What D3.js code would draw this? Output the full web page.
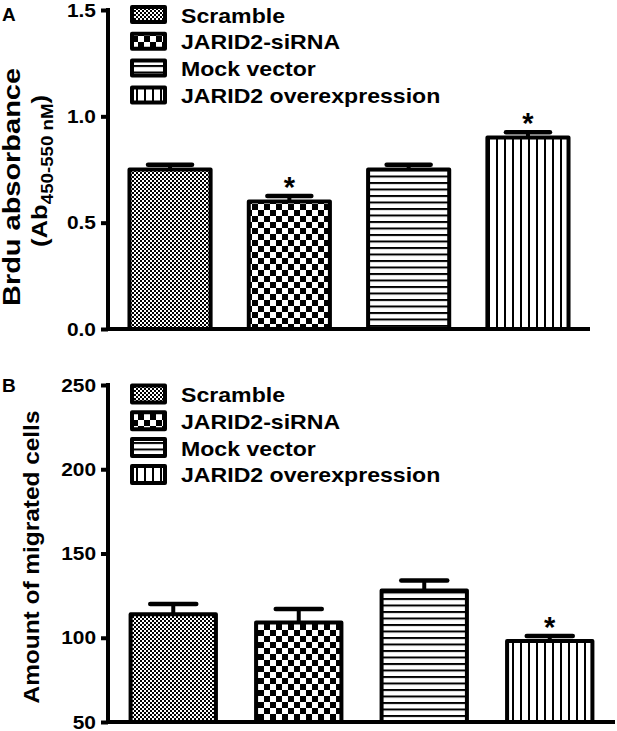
<!DOCTYPE html>
<html><head><meta charset="utf-8">
<script src="https://cdn.jsdelivr.net/npm/d3@7"></script>
<style>
html,body{margin:0;padding:0;background:#fff;}
svg{display:block;font-family:"Liberation Sans",Arial,sans-serif;font-weight:bold;}
</style></head>
<body>
<svg id="chart" width="617" height="731"></svg>
<script>
// ---------- data ----------
const groups = ["Scramble", "JARID2-siRNA", "Mock vector", "JARID2 overexpression"];
const patternIds = ["pScramble", "pSiRNA", "pMock", "pOver"];

const brduValues = [0.75, 0.60, 0.75, 0.90];
const brduErrors = [0.022, 0.025, 0.022, 0.025];
const brduSig = [false, true, false, true];
const brduTicks = [0.0, 0.5, 1.0, 1.5];
const brduTickLabels = ["0.0", "0.5", "1.0", "1.5"];

const migValues = [114, 109, 128, 98];
const migErrors = [6, 8, 6, 3];
const migSig = [false, false, false, true];
const migTicks = [50, 100, 150, 200, 250];
const migTickLabels = ["50", "100", "150", "200", "250"];

// ---------- setup ----------
const svg = d3.select("#chart");
const defs = svg.append("defs");

// fine checker
const p1 = defs.append("pattern").attr("id", "pScramble").attr("patternUnits", "userSpaceOnUse")
  .attr("width", 4).attr("height", 4);
p1.append("rect").attr("width", 4).attr("height", 4).attr("fill", "#fff");
p1.append("rect").attr("width", 2).attr("height", 2).attr("fill", "#000");
p1.append("rect").attr("x", 2).attr("y", 2).attr("width", 2).attr("height", 2).attr("fill", "#000");
// coarse checker
const p2 = defs.append("pattern").attr("id", "pSiRNA").attr("patternUnits", "userSpaceOnUse")
  .attr("width", 12).attr("height", 12);
p2.append("rect").attr("width", 12).attr("height", 12).attr("fill", "#fff");
p2.append("rect").attr("width", 6).attr("height", 6).attr("fill", "#000");
p2.append("rect").attr("x", 6).attr("y", 6).attr("width", 6).attr("height", 6).attr("fill", "#000");
// horizontal lines
const p3 = defs.append("pattern").attr("id", "pMock").attr("patternUnits", "userSpaceOnUse")
  .attr("width", 10).attr("height", 6.5);
p3.append("rect").attr("width", 10).attr("height", 6.5).attr("fill", "#fff");
p3.append("rect").attr("y", 0).attr("width", 10).attr("height", 2).attr("fill", "#000");
// vertical lines
const p4 = defs.append("pattern").attr("id", "pOver").attr("patternUnits", "userSpaceOnUse")
  .attr("width", 8).attr("height", 10);
p4.append("rect").attr("width", 8).attr("height", 10).attr("fill", "#fff");
p4.append("rect").attr("x", 0).attr("width", 2).attr("height", 10).attr("fill", "#000");

function stretch(sel, f) {
  sel.each(function () {
    const L = this.getComputedTextLength();
    d3.select(this).attr("textLength", L * f).attr("lengthAdjust", "spacingAndGlyphs");
  });
}

function panel(cfg) {
  const g = svg.append("g");
  const x = d3.scaleBand().domain(groups).range([cfg.x0, cfg.x1])
    .paddingInner(0.32).paddingOuter(0.18);
  const y = d3.scaleLinear().domain(cfg.domain).range([cfg.y1, cfg.y0]);

  // y axis
  const yAxis = d3.axisLeft(y).tickValues(cfg.ticks)
    .tickFormat((d, i) => cfg.tickLabels[i]).tickSize(7).tickPadding(5);
  const ya = g.append("g").attr("transform", `translate(${cfg.x0},0)`).call(yAxis);
  ya.select(".domain").remove();
  ya.selectAll(".tick line").attr("stroke", "#000").attr("stroke-width", 4);
  ya.selectAll(".tick text").attr("font-size", 19).attr("font-weight", "bold")
    .attr("font-family", "Liberation Sans, Arial, sans-serif").attr("fill", "#000");
  stretch(ya.selectAll(".tick text"), 1.1);
  g.append("line").attr("x1", cfg.x0).attr("x2", cfg.x0).attr("y1", cfg.y0 - 2).attr("y2", cfg.y1 + 2)
    .attr("stroke", "#000").attr("stroke-width", 4);

  // bars
  g.selectAll("rect.bar").data(cfg.values).join("rect").attr("class", "bar")
    .attr("x", (d, i) => x(groups[i]))
    .attr("y", d => y(d))
    .attr("width", x.bandwidth())
    .attr("height", d => y(cfg.domain[0]) - y(d))
    .attr("fill", (d, i) => `url(#${patternIds[i]})`)
    .attr("stroke", "#000").attr("stroke-width", 4).attr("stroke-linejoin", "round");

  // error bars
  const cw = cfg.capWidth;
  cfg.values.forEach((v, i) => {
    const cx = x(groups[i]) + x.bandwidth() / 2;
    g.append("line").attr("x1", cx).attr("x2", cx).attr("y1", y(v)).attr("y2", y(v + cfg.errors[i]))
      .attr("stroke", "#000").attr("stroke-width", 4);
    g.append("line").attr("x1", cx - cw / 2).attr("x2", cx + cw / 2)
      .attr("y1", y(v + cfg.errors[i])).attr("y2", y(v + cfg.errors[i]))
      .attr("stroke", "#000").attr("stroke-width", 4.5).attr("stroke-linecap", "round");
    if (cfg.sig[i]) {
      g.append("text").attr("x", cx).attr("y", y(v + cfg.errors[i]) + 1)
        .attr("text-anchor", "middle").attr("font-size", 29).attr("font-weight", "bold").text("*");
    }
  });

  // x axis line
  g.append("line").attr("x1", cfg.x0 - 2).attr("x2", cfg.x1).attr("y1", cfg.y1).attr("y2", cfg.y1)
    .attr("stroke", "#000").attr("stroke-width", 4);

  // legend
  groups.forEach((name, i) => {
    const cy = cfg.legY + i * cfg.legStep;
    g.append("rect").attr("x", 132).attr("y", cy - cfg.swH / 2).attr("width", 33).attr("height", cfg.swH)
      .attr("fill", `url(#${patternIds[i]})`).attr("stroke", "#000").attr("stroke-width", 4)
      .attr("stroke-linejoin", "round");
    const t = g.append("text").attr("x", 181).attr("y", cy + 8).attr("font-size", 21).text(name);
    stretch(t, 1.1);
  });

  // panel label
  g.append("text").attr("x", 2).attr("y", cfg.labelY).attr("font-size", 19).text(cfg.label);
  return g;
}

const gA = panel({
  x0: 108, x1: 590, y0: 10, y1: 329, domain: [0, 1.5],
  ticks: brduTicks, tickLabels: brduTickLabels,
  values: brduValues, errors: brduErrors, sig: brduSig, capWidth: 44,
  legY: 14.5, legStep: 26.8, swH: 15, label: "A", labelY: 21
});
const gB = panel({
  x0: 108, x1: 615, y0: 385, y1: 722, domain: [50, 250],
  ticks: migTicks, tickLabels: migTickLabels,
  values: migValues, errors: migErrors, sig: migSig, capWidth: 46,
  legY: 394, legStep: 26.8, swH: 17, label: "B", labelY: 392
});

// axis titles
svg.append("text").attr("transform", "translate(20,187) rotate(-90)").attr("text-anchor", "middle")
  .attr("font-size", 23).attr("textLength", 238).attr("lengthAdjust", "spacingAndGlyphs")
  .text("Brdu absorbance");
const t2 = svg.append("text").attr("transform", "translate(47,171) rotate(-90)").attr("text-anchor", "middle")
  .attr("font-size", 22);
t2.append("tspan").text("(Ab");
t2.append("tspan").attr("font-size", 16).attr("dy", 6).text("450-550 nM");
t2.append("tspan").attr("dy", -6).text(")");
t2.attr("textLength", 152).attr("lengthAdjust", "spacingAndGlyphs");

svg.append("text").attr("transform", "translate(39,557) rotate(-90)").attr("text-anchor", "middle")
  .attr("font-size", 22).attr("textLength", 293).attr("lengthAdjust", "spacingAndGlyphs")
  .text("Amount of migrated cells");
</script>
</body></html>
